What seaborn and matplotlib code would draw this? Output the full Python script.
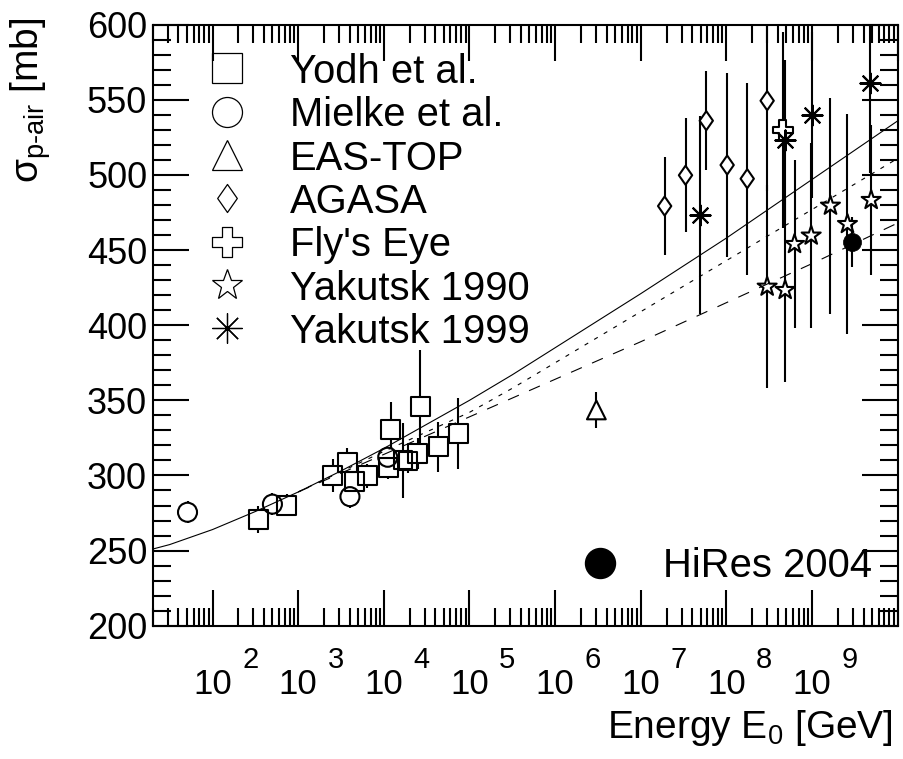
import numpy as np
import matplotlib
matplotlib.use("Agg")
import matplotlib.pyplot as plt
from matplotlib.path import Path
from matplotlib.lines import Line2D
from matplotlib.ticker import LogLocator, MultipleLocator, NullFormatter
import seaborn as sns

# ---------------- data: energy [GeV], cross section [mb], uncertainty [mb]
yodh_E = [341, 731, 2518, 3733, 4550, 6383, 12050, 11220, 16790, 19190, 24720, 26790, 43450, 74300]
yodh_sig = [270.8, 280.2, 299.8, 308.5, 295.8, 299.8, 330.6, 305.4, 310.2, 309.6, 314.6, 345.7, 319.1, 328.1]
yodh_err = [8.9, 7.5, 11, 10, 8, 8, 18, 8, 25, 8, 10, 37.6, 16.6, 23.6]

mielke_E = [51, 500, 4020, 11100]
mielke_sig = [275.5, 280.9, 285.9, 312.1]
mielke_err = [7.4, 7.5, 7.5, 7.0]

eastop_E = [3.03e6]
eastop_sig = [343.6]
eastop_err = [12.0]

agasa_E = [1.90e7, 3.33e7, 5.82e7, 1.02e8, 1.75e8, 2.99e8]
agasa_sig = [479.3, 499.8, 536.1, 506.6, 497.5, 549.4]
agasa_err = [32.4, 38.0, 33.0, 61.0, 64.0, 60.0]

flyseye_E = [4.55e8]
flyseye_sig = [530.0]
flyseye_err = [65.0]

yak90_E = [2.99e8, 4.85e8, 6.24e8, 9.77e8, 1.64e9, 2.59e9, 4.90e9]
yak90_sig = [425.6, 423.4, 454.0, 459.6, 479.5, 467.3, 483.3]
yak90_err = [67.7, 61.0, 56.0, 61.6, 72.0, 73.0, 50.0]

yak99_E = [4.86e7, 4.79e8, 1.0e9, 4.79e9]
yak99_sig = [473.3, 523.3, 539.9, 561.4]
yak99_err = [66.0, 53.0, 55.0, 60.0]

hires_E = [2.95e9]
hires_sig = [455.6]
hires_err = [16.6]

# model curves, sampled every half decade
curve_E = [20, 3.16e1, 1e2, 3.16e2, 1e3, 3.16e3, 1e4, 3.16e4, 1e5, 3.16e5, 1e6,
           3.16e6, 1e7, 3.16e7, 1e8, 3.16e8, 1e9, 3.16e9, 1e10]
solid_sig = [251, 254, 264, 276, 289, 303, 318, 334, 350, 367, 385,
             403, 421, 439.5, 458, 477.5, 497, 516.5, 536]
branch_E = [1e3, 3.16e3, 1e4, 3.16e4, 1e5, 3.16e5, 1e6, 3.16e6, 1e7, 3.16e7,
            1e8, 3.16e8, 1e9, 3.16e9, 1e10]
dotted_sig = [289, 302.5, 316, 329, 342, 358, 375, 392, 409, 426, 443, 460, 477, 494, 511]
dashed_sig = [289, 301.5, 314, 326.5, 339, 351.5, 364, 376.5, 389, 402, 415, 428, 441, 454.5, 468]

decades = [2, 3, 4, 5, 6, 7, 8, 9]

# ---------------- style
sns.set_style("ticks")
plt.rcParams["font.family"] = ["Liberation Sans", "DejaVu Sans"]
plt.rcParams["mathtext.fontset"] = "custom"
plt.rcParams["mathtext.rm"] = "Liberation Sans"
plt.rcParams["mathtext.it"] = "Liberation Sans:italic"
plt.rcParams["mathtext.bf"] = "Liberation Sans:bold"
plt.rcParams["mathtext.sf"] = "Liberation Sans"
plt.rcParams["lines.scale_dashes"] = False
for key in ["text.color", "axes.labelcolor", "xtick.color", "ytick.color",
            "axes.edgecolor", "xtick.labelcolor", "ytick.labelcolor"]:
    plt.rcParams[key] = "black"

W, H = 904, 759


def fx(px):
    return px / W


def fy(py):
    return 1 - py / H


fig = plt.figure(figsize=(W / 100, H / 100), dpi=100)
ax = fig.add_axes([fx(152.7), fy(625.7), (897.7 - 152.7) / W, (625.7 - 24.7) / H])
ax.set_xscale("log")
ax.set_xlim(20, 1e10)
ax.set_ylim(200, 600)

# marker shapes
cross_marker = Path(
    [(-1/3, 1), (1/3, 1), (1/3, 1/3), (1, 1/3), (1, -1/3), (1/3, -1/3), (1/3, -1),
     (-1/3, -1), (-1/3, -1/3), (-1, -1/3), (-1, 1/3), (-1/3, 1/3), (-1/3, 1)],
    [Path.MOVETO] + [Path.LINETO] * 11 + [Path.CLOSEPOLY],
)
diamond_marker = Path(
    [(0, 1), (0.7, 0), (0, -1), (-0.7, 0), (0, 1)],
    [Path.MOVETO, Path.LINETO, Path.LINETO, Path.LINETO, Path.CLOSEPOLY],
)
asterisk_marker = (8, 2, 0)

series = [
    (yodh_E, yodh_sig, yodh_err, "s", 13.5),
    (mielke_E, mielke_sig, mielke_err, "o", 13.7),
    (eastop_E, eastop_sig, eastop_err, "^", 13.5),
    (agasa_E, agasa_sig, agasa_err, diamond_marker, 13.7),
    (flyseye_E, flyseye_sig, flyseye_err, cross_marker, 14.4),
    (yak90_E, yak90_sig, yak90_err, "*", 14.4),
    (yak99_E, yak99_sig, yak99_err, asterisk_marker, 14.4),
]

for E, sig, err, mk, size in series:
    ax.errorbar(E, sig, yerr=err, fmt="none", ecolor="black", elinewidth=1.5,
                capsize=0, zorder=2)
    if mk is asterisk_marker:
        sns.scatterplot(x=E, y=sig, ax=ax, marker=mk, s=size ** 2, color="black",
                        linewidth=1.5, zorder=3, legend=False)
    else:
        ax.scatter(E, sig, marker=mk, s=size ** 2, facecolor="white",
                   edgecolor="none", zorder=2.5)
        sns.scatterplot(x=E, y=sig, ax=ax, marker=mk, s=size ** 2, facecolor="none",
                        edgecolor="black", linewidth=1.5, zorder=3, legend=False)

ax.errorbar(hires_E, hires_sig, yerr=hires_err, fmt="none", ecolor="black",
            elinewidth=1.5, capsize=0, zorder=2)
sns.scatterplot(x=hires_E, y=hires_sig, ax=ax, marker="o", s=13 ** 2, color="black",
                edgecolor="black", linewidth=0.5, zorder=3, legend=False)

# model curves
sns.lineplot(x=curve_E, y=solid_sig, ax=ax, color="black", lw=0.8, errorbar=None,
             zorder=2.6)
sns.lineplot(x=branch_E, y=dotted_sig, ax=ax, color="black", lw=0.8, errorbar=None,
             linestyle=(0, (3, 5)), zorder=2.6)
sns.lineplot(x=branch_E, y=dashed_sig, ax=ax, color="black", lw=0.8, errorbar=None,
             linestyle=(0, (8.5, 8)), zorder=2.6)

# axes and ticks
ax.xaxis.set_major_locator(LogLocator(base=10, numticks=30))
ax.xaxis.set_minor_locator(LogLocator(base=10, subs=np.arange(2, 10), numticks=200))
ax.xaxis.set_major_formatter(NullFormatter())
ax.xaxis.set_minor_formatter(NullFormatter())
ax.yaxis.set_major_locator(MultipleLocator(50))
ax.yaxis.set_minor_locator(MultipleLocator(10))
ax.tick_params(which="both", direction="in", top=True, right=True, width=1.5,
               color="black")
ax.tick_params(which="major", length=26)
ax.tick_params(which="minor", length=13)
ax.tick_params(axis="y", labelsize=26, pad=4, labelcolor="black")
for sp in ax.spines.values():
    sp.set_linewidth(1.5)
    sp.set_color("black")
ax.set_xlabel("")
ax.set_ylabel("")

# decade labels: base centred on the tick, exponent raised to its right
for k in decades:
    ax.annotate("10", xy=(10.0 ** k, 0), xycoords=("data", "axes fraction"),
                xytext=(0, -49.4), textcoords="offset points", ha="center",
                va="baseline", fontsize=25, color="black", annotation_clip=False)
    ax.annotate(str(k), xy=(10.0 ** k, 0), xycoords=("data", "axes fraction"),
                xytext=(21.3, -30.7), textcoords="offset points", ha="left",
                va="baseline", fontsize=21, color="black", annotation_clip=False)

fig.text(fx(893), fy(738), r"Energy E$_0$ [GeV]", ha="right", va="baseline",
         fontsize=28, color="black")
fig.text(fx(31), fy(18), r"σ$_{\text{p-air}}$ [mb]", rotation=90, ha="center",
         va="top", fontsize=28, color="black")

# legend
legend_labels = ["Yodh et al.", "Mielke et al.", "EAS-TOP", "AGASA", "Fly's Eye",
                 "Yakutsk 1990", "Yakutsk 1999"]
legend_markers = ["s", "o", "^", diamond_marker, cross_marker, "*", asterisk_marker]
legend_sizes = [21.6, 21.6, 21.6, 20.2, 21.6, 22.7, 21.6]
for i, (lab, mk, ms) in enumerate(zip(legend_labels, legend_markers, legend_sizes)):
    yc = 68.3 + 43.3 * i
    fig.add_artist(Line2D([fx(227.3)], [fy(yc)], marker=mk, markersize=ms,
                          mfc="none", mec="black", mew=0.9, color="black",
                          linestyle="none", transform=fig.transFigure))
    fig.text(fx(290), fy(yc + 14.8), lab, ha="left", va="baseline", fontsize=28.8,
             color="black")

fig.add_artist(Line2D([fx(600)], [fy(563)], marker="o", markersize=21.6,
                      mfc="black", mec="black", linestyle="none",
                      transform=fig.transFigure))
fig.text(fx(663), fy(577), "HiRes 2004", ha="left", va="baseline", fontsize=28.8,
         color="black")

fig.savefig("out.png", dpi=100)
